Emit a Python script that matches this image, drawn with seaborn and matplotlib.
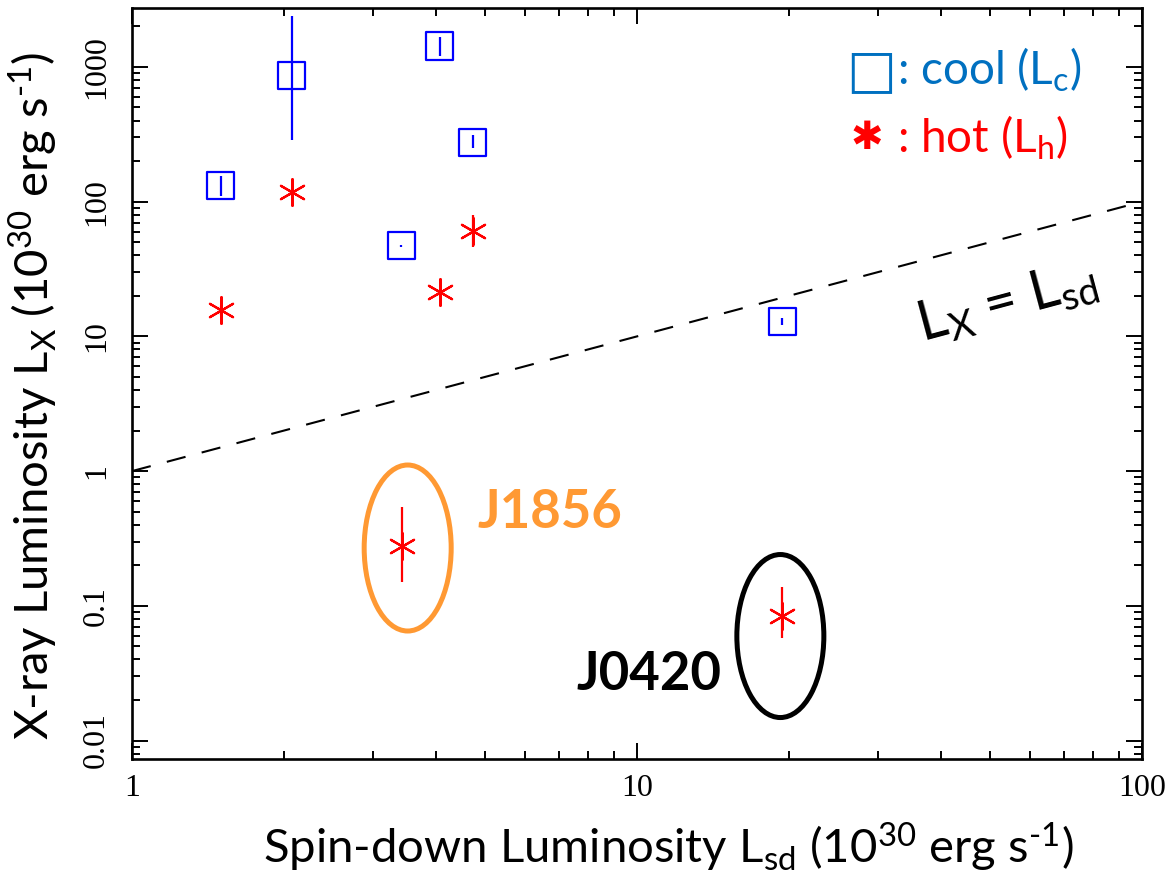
import numpy as np
import matplotlib
matplotlib.use("Agg")
import matplotlib.pyplot as plt
import matplotlib.patches as mpatches
from matplotlib.ticker import LogLocator, NullFormatter, FixedLocator, FixedFormatter
import pandas as pd
import seaborn as sns

# ---------------- data ----------------
cool_lsd = [2.07, 1.50, 4.07, 4.73, 3.41, 19.4]
cool_lx = [858, 131, 1430, 273, 47.2, 12.9]
cool_lo = [288, 110, 1206, 251, 46.4, 12.1]
cool_hi = [2390, 156, 1669, 313, 48.0, 13.8]

hot_lsd = [2.07, 4.73, 4.07, 1.50, 3.42, 19.4]
hot_lx = [117, 61, 21.2, 15.6, 0.278, 0.084]
hot_lo = [110, 46.4, 20.0, 14.5, 0.150, 0.058]
hot_hi = [124, 80, 22.5, 16.8, 0.540, 0.138]

line_lsd = [1, 100]
line_lx = [1, 100]

xtick_vals = [1, 10, 100]
xtick_labels = ["1", "10", "100"]
ytick_vals = [0.01, 0.1, 1, 10, 100, 1000]
ytick_labels = ["0.01", "0.1", "1", "10", "100", "1000"]

highlight_names = ["J1856", "J0420"]
highlight_idx = [4, 5]
highlight_colors = ["#FF9933", "#000000"]

# ---------------- style ----------------
sns.set_theme(style="ticks")
plt.rcParams["font.family"] = ["Lato", "DejaVu Sans"]
plt.rcParams["mathtext.fontset"] = "custom"
plt.rcParams["mathtext.rm"] = "Lato"
plt.rcParams["mathtext.it"] = "Lato:italic"
plt.rcParams["mathtext.bf"] = "Lato:bold"

BLUE = "#0000FF"
RED = "#FF0000"
LEG_BLUE = "#0070C0"

fig = plt.figure(figsize=(11.67, 8.75), dpi=100)
ax = fig.add_axes([0.1131, 0.1326, 0.8655, 0.8583])
ax.set_facecolor("white")
fig.patch.set_facecolor("white")

ax.set_xscale("log")
ax.set_yscale("log")
ax.set_xlim(1, 100)
ax.set_ylim(0.0073, 2740)

# reference line Lx = Lsd
ax.plot(line_lsd, line_lx, color="black", lw=1.5, dashes=(9.3, 8))

# error bars
ax.errorbar(cool_lsd, cool_lx,
            yerr=[np.array(cool_lx) - np.array(cool_lo), np.array(cool_hi) - np.array(cool_lx)],
            fmt="none", ecolor=BLUE, elinewidth=1.6, capsize=0)
ax.errorbar(hot_lsd, hot_lx,
            yerr=[np.array(hot_lx) - np.array(hot_lo), np.array(hot_hi) - np.array(hot_lx)],
            fmt="none", ecolor=RED, elinewidth=1.6, capsize=0)

df_cool = pd.DataFrame({"Lsd": cool_lsd, "Lx": cool_lx})
df_hot = pd.DataFrame({"Lsd": hot_lsd, "Lx": hot_lx})
sns.scatterplot(data=df_cool, x="Lsd", y="Lx", marker="s", s=380,
                facecolors="none", edgecolor=BLUE, linewidth=1.6, ax=ax, zorder=3)
sns.scatterplot(data=df_hot, x="Lsd", y="Lx", marker=(6, 2, 0), s=370,
                color=RED, edgecolor=RED, linewidth=1.6, ax=ax, zorder=3)

# highlight ellipses + labels
to_axes = ax.transScale + ax.transLimits
ell_off = [(6, -2), (-2, -20)]          # pixels
ell_size = [(87, 166), (87, 163)]       # pixels
lab_off = [(107, 24), (-96, -42)]       # points
axw, axh = 1010.0, 751.0
for name, i, col, eo, es, lo in zip(highlight_names, highlight_idx, highlight_colors,
                                    ell_off, ell_size, lab_off):
    cx, cy = to_axes.transform((hot_lsd[i], hot_lx[i]))
    e = mpatches.Ellipse((cx + eo[0] / axw, cy + eo[1] / axh), es[0] / axw, es[1] / axh,
                         transform=ax.transAxes, fill=False, edgecolor=col, lw=3.6, zorder=4)
    ax.add_patch(e)
    ax.annotate(name, xy=(hot_lsd[i], hot_lx[i]), xytext=lo, textcoords="offset points",
                ha="center", va="center", fontsize=38, fontweight="bold", color=col)

# Lx = Lsd label
ax.text(54, 17.8, r"L$_{\mathrm{X}}$ = L$_{\mathrm{sd}}$", rotation=15, rotation_mode="anchor",
        ha="center", va="center", fontsize=40, color="black")

# legend-like text
ax.text(0.707, 0.9155, "□", transform=ax.transAxes, ha="left", va="center",
        fontsize=38, color=LEG_BLUE, family=["DejaVu Sans"], fontweight="bold")
ax.text(0.757, 0.917, r": cool (L$_{\mathrm{c}}$)", transform=ax.transAxes, ha="left",
        va="center", fontsize=33, color=LEG_BLUE)
ax.text(0.711, 0.827, "✱", transform=ax.transAxes, ha="left", va="center",
        fontsize=28, color=RED, family=["DejaVu Sans"])
ax.text(0.757, 0.827, r": hot (L$_{\mathrm{h}}$)", transform=ax.transAxes, ha="left",
        va="center", fontsize=33, color=RED)

# axes / ticks
for sp in ax.spines.values():
    sp.set_visible(True)
    sp.set_color("black")
    sp.set_linewidth(1.9)

ax.xaxis.set_major_locator(FixedLocator(xtick_vals))
ax.xaxis.set_major_formatter(FixedFormatter(xtick_labels))
ax.yaxis.set_major_locator(FixedLocator(ytick_vals))
ax.yaxis.set_major_formatter(FixedFormatter(ytick_labels))
ax.xaxis.set_minor_locator(LogLocator(base=10, subs=np.arange(2, 10)))
ax.yaxis.set_minor_locator(LogLocator(base=10, subs=np.arange(2, 10)))
ax.xaxis.set_minor_formatter(NullFormatter())
ax.yaxis.set_minor_formatter(NullFormatter())

ax.tick_params(which="both", direction="in", top=True, right=True, colors="black")
ax.tick_params(which="major", length=11.5, width=1.4)
ax.tick_params(which="minor", length=5.8, width=1.4)
ax.tick_params(axis="x", which="major", pad=11, labelsize=23)
ax.tick_params(axis="y", which="major", pad=15, labelsize=23)
for lab in ax.get_xticklabels() + ax.get_yticklabels():
    lab.set_family(["Liberation Serif"])
for lab in ax.get_yticklabels():
    lab.set_rotation(90)
    lab.set_va("center")
ax.grid(False)

ax.set_xlabel(r"Spin-down Luminosity L$_{\mathrm{sd}}$ (10$^{30}$ erg s$^{\text{-}1}$)",
              fontsize=34, color="black", va="center")
ax.xaxis.set_label_coords(0.531, -0.118)
ax.set_ylabel(r"X-ray Luminosity L$_{\mathrm{X}}$ (10$^{30}$ erg s$^{\text{-}1}$)",
              fontsize=34, color="black", va="center")
ax.yaxis.set_label_coords(-0.098, 0.483)

fig.savefig("out.png", dpi=100, facecolor="white")
